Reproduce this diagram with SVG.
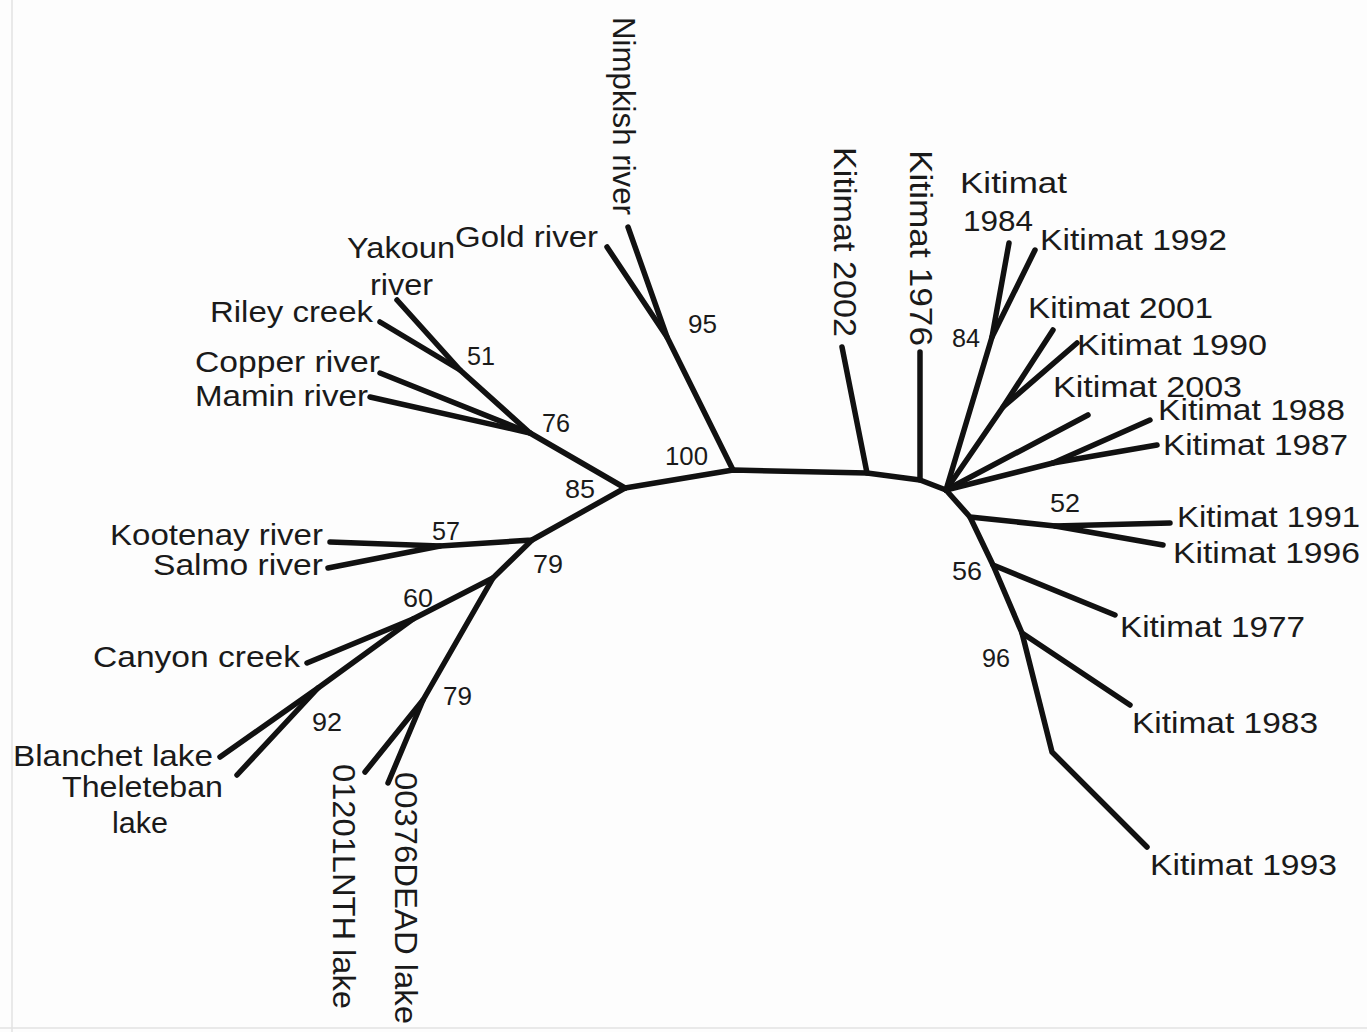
<svg xmlns="http://www.w3.org/2000/svg" width="1367" height="1032" viewBox="0 0 1367 1032">
<style>
.e{fill:none;stroke:#111;stroke-width:5.5;stroke-linecap:round;stroke-linejoin:round}
.t{font-family:"Liberation Sans",Arial,sans-serif;font-size:29px;fill:#1a1a1a}
.v{font-family:"Liberation Sans",Arial,sans-serif;font-size:32px;fill:#1a1a1a}
.n{font-family:"Liberation Sans",Arial,sans-serif;font-size:26px;fill:#1a1a1a}
.r{text-anchor:end}
</style>
<rect x="0" y="0" width="1367" height="1032" fill="#fdfdfd"/>
<line x1="12" y1="0" x2="12" y2="1032" stroke="#e2e2e2" stroke-width="1.5"/>
<line x1="0" y1="1028" x2="1367" y2="1028" stroke="#e2e2e2" stroke-width="1.5"/>
<g id="connectors">
<path class="e" d="M625,488 L733,470 L867,473 L920,480 L946,490"/>
<path class="e" d="M625,488 L530,433 L460,370 L397,300"/>
<path class="e" d="M460,370 L380,322"/>
<path class="e" d="M530,433 L380,373"/>
<path class="e" d="M530,433 L370,397"/>
<path class="e" d="M625,488 L532,540 L440,546 L330,542"/>
<path class="e" d="M440,546 L328,568"/>
<path class="e" d="M532,540 L493,578 L413,619 L307,663"/>
<path class="e" d="M413,619 L318,688 L220,757"/>
<path class="e" d="M318,688 L237,775"/>
<path class="e" d="M493,578 L423,700 L365,772"/>
<path class="e" d="M423,700 L388,783"/>
<path class="e" d="M733,470 L667,337 L607,247"/>
<path class="e" d="M667,337 L628,227"/>
<path class="e" d="M867,473 L842,347"/>
<path class="e" d="M920,480 L920,352"/>
<path class="e" d="M946,490 L992,337 L1009,243"/>
<path class="e" d="M992,337 L1035,250"/>
<path class="e" d="M946,490 L1003,407 L1053,330"/>
<path class="e" d="M1003,407 L1077,343"/>
<path class="e" d="M946,490 L1088,415"/>
<path class="e" d="M946,490 L1053,463 L1150,420"/>
<path class="e" d="M1053,463 L1157,445"/>
<path class="e" d="M946,490 L970,517 L1055,526 L1170,523"/>
<path class="e" d="M1055,526 L1163,545"/>
<path class="e" d="M970,517 L993,565 L1115,615"/>
<path class="e" d="M993,565 L1022,633 L1130,705"/>
<path class="e" d="M1022,633 L1052,752 L1147,847"/>
</g>
<g id="node-gold"><text class="t r" x="598" y="247" textLength="143" lengthAdjust="spacingAndGlyphs">Gold river</text></g>
<g id="node-yakoun"><text class="t r" x="455" y="258" textLength="108" lengthAdjust="spacingAndGlyphs">Yakoun</text><text class="t r" x="433" y="295" textLength="63" lengthAdjust="spacingAndGlyphs">river</text></g>
<g id="node-riley"><text class="t r" x="373" y="322" textLength="163" lengthAdjust="spacingAndGlyphs">Riley creek</text></g>
<g id="node-copper"><text class="t r" x="380" y="372" textLength="185" lengthAdjust="spacingAndGlyphs">Copper river</text></g>
<g id="node-mamin"><text class="t r" x="368" y="406" textLength="173" lengthAdjust="spacingAndGlyphs">Mamin river</text></g>
<g id="node-kootenay"><text class="t r" x="323" y="545" textLength="213" lengthAdjust="spacingAndGlyphs">Kootenay river</text></g>
<g id="node-salmo"><text class="t r" x="323" y="575" textLength="170" lengthAdjust="spacingAndGlyphs">Salmo river</text></g>
<g id="node-canyon"><text class="t r" x="300" y="667" textLength="207" lengthAdjust="spacingAndGlyphs">Canyon creek</text></g>
<g id="node-blanchet"><text class="t r" x="213" y="766" textLength="200" lengthAdjust="spacingAndGlyphs">Blanchet lake</text></g>
<g id="node-theleteban"><text class="t r" x="223" y="797" textLength="161" lengthAdjust="spacingAndGlyphs">Theleteban</text><text class="t r" x="168" y="833" textLength="56" lengthAdjust="spacingAndGlyphs">lake</text></g>
<g id="node-01201"><text class="v" transform="translate(333,764) rotate(90)" textLength="245" lengthAdjust="spacingAndGlyphs">01201LNTH lake</text></g>
<g id="node-00376"><text class="v" transform="translate(395,772) rotate(90)" textLength="252" lengthAdjust="spacingAndGlyphs">00376DEAD lake</text></g>
<g id="node-nimpkish"><text class="v" transform="translate(613,17) rotate(90)" textLength="198" lengthAdjust="spacingAndGlyphs">Nimpkish river</text></g>
<g id="node-k2002"><text class="v" transform="translate(834,147) rotate(90)" textLength="190" lengthAdjust="spacingAndGlyphs">Kitimat 2002</text></g>
<g id="node-k1976"><text class="v" transform="translate(910,150) rotate(90)" textLength="196" lengthAdjust="spacingAndGlyphs">Kitimat 1976</text></g>
<g id="node-k1984"><text class="t" x="960" y="193" textLength="107" lengthAdjust="spacingAndGlyphs">Kitimat</text><text class="t" x="963" y="231" textLength="70" lengthAdjust="spacingAndGlyphs">1984</text></g>
<g id="node-k1992"><text class="t" x="1040" y="250" textLength="187" lengthAdjust="spacingAndGlyphs">Kitimat 1992</text></g>
<g id="node-k2001"><text class="t" x="1028" y="318" textLength="185" lengthAdjust="spacingAndGlyphs">Kitimat 2001</text></g>
<g id="node-k1990"><text class="t" x="1077" y="355" textLength="190" lengthAdjust="spacingAndGlyphs">Kitimat 1990</text></g>
<g id="node-k2003"><text class="t" x="1053" y="397" textLength="189" lengthAdjust="spacingAndGlyphs">Kitimat 2003</text></g>
<g id="node-k1988"><text class="t" x="1158" y="420" textLength="187" lengthAdjust="spacingAndGlyphs">Kitimat 1988</text></g>
<g id="node-k1987"><text class="t" x="1163" y="455" textLength="185" lengthAdjust="spacingAndGlyphs">Kitimat 1987</text></g>
<g id="node-k1991"><text class="t" x="1177" y="527" textLength="183" lengthAdjust="spacingAndGlyphs">Kitimat 1991</text></g>
<g id="node-k1996"><text class="t" x="1173" y="563" textLength="187" lengthAdjust="spacingAndGlyphs">Kitimat 1996</text></g>
<g id="node-k1977"><text class="t" x="1120" y="637" textLength="185" lengthAdjust="spacingAndGlyphs">Kitimat 1977</text></g>
<g id="node-k1983"><text class="t" x="1132" y="733" textLength="186" lengthAdjust="spacingAndGlyphs">Kitimat 1983</text></g>
<g id="node-k1993"><text class="t" x="1150" y="875" textLength="187" lengthAdjust="spacingAndGlyphs">Kitimat 1993</text></g>
<g id="bs-51"><text class="n" x="467" y="365" textLength="28" lengthAdjust="spacingAndGlyphs">51</text></g>
<g id="bs-76"><text class="n" x="542" y="432" textLength="28" lengthAdjust="spacingAndGlyphs">76</text></g>
<g id="bs-85"><text class="n" x="565" y="498" textLength="30" lengthAdjust="spacingAndGlyphs">85</text></g>
<g id="bs-95"><text class="n" x="688" y="333" textLength="29" lengthAdjust="spacingAndGlyphs">95</text></g>
<g id="bs-100"><text class="n" x="665" y="465" textLength="43" lengthAdjust="spacingAndGlyphs">100</text></g>
<g id="bs-84"><text class="n" x="952" y="347" textLength="28" lengthAdjust="spacingAndGlyphs">84</text></g>
<g id="bs-52"><text class="n" x="1050" y="512" textLength="30" lengthAdjust="spacingAndGlyphs">52</text></g>
<g id="bs-56"><text class="n" x="952" y="580" textLength="30" lengthAdjust="spacingAndGlyphs">56</text></g>
<g id="bs-96"><text class="n" x="982" y="667" textLength="28" lengthAdjust="spacingAndGlyphs">96</text></g>
<g id="bs-57"><text class="n" x="432" y="540" textLength="28" lengthAdjust="spacingAndGlyphs">57</text></g>
<g id="bs-79a"><text class="n" x="533" y="573" textLength="30" lengthAdjust="spacingAndGlyphs">79</text></g>
<g id="bs-60"><text class="n" x="403" y="607" textLength="30" lengthAdjust="spacingAndGlyphs">60</text></g>
<g id="bs-79b"><text class="n" x="443" y="705" textLength="29" lengthAdjust="spacingAndGlyphs">79</text></g>
<g id="bs-92"><text class="n" x="312" y="731" textLength="30" lengthAdjust="spacingAndGlyphs">92</text></g>
</svg>
